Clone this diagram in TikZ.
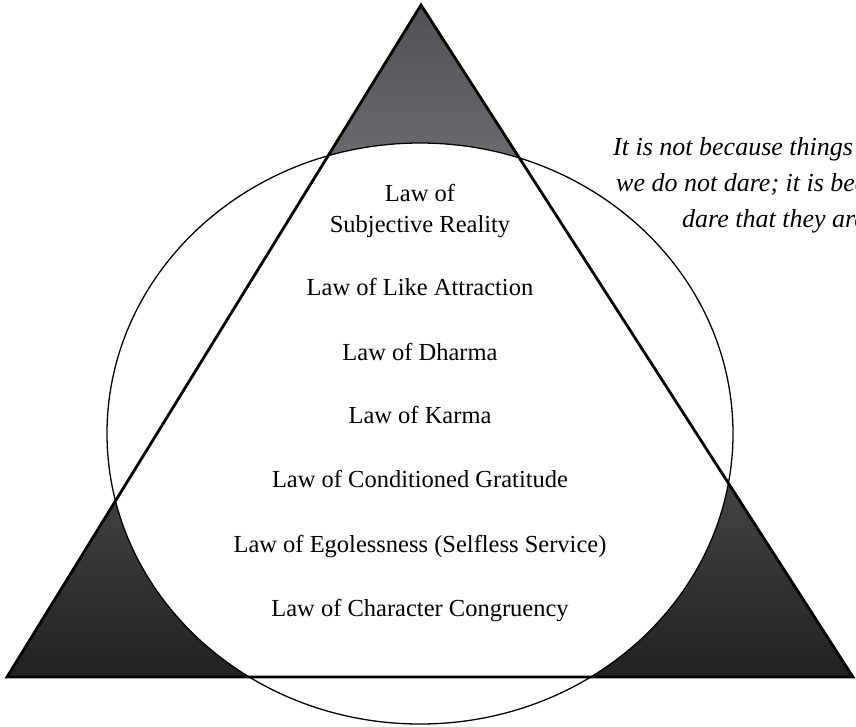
\documentclass[tikz,border=0pt]{standalone}
\usepackage{fontspec}
\setmainfont{Liberation Serif}
\definecolor{topdark}{HTML}{4F5053}
\definecolor{toplight}{HTML}{6B6C6F}
\definecolor{botdark}{HTML}{1F1F1F}
\definecolor{botlight}{HTML}{4B4B4D}
\begin{document}
\begin{tikzpicture}[x=1pt,y=-1pt,
  lawtext/.style={font=\fontsize{24.5}{30}\selectfont, anchor=base, inner sep=0pt},
  quotetext/.style={font=\fontsize{26}{30}\selectfont\itshape, anchor=base west, inner sep=0pt},
  triline/.style={line width=2.8pt, line join=miter},
  ringline/.style={line width=1.3pt}
]
\useasboundingbox (0,0) rectangle (856,726);
\clip (0,0) rectangle (856,726);
\coordinate (apex) at (421,5);
\coordinate (bl) at (7,677);
\coordinate (br) at (853,677);
\coordinate (cc) at (420,433.5);
% shaded corners
\begin{scope}
\clip (apex) -- (bl) -- (br) -- cycle;
\shade[top color=topdark, bottom color=toplight] (300,0) rectangle (540,165);
\shade[shading angle=-45, top color=botlight, bottom color=botdark] (0,440) rectangle (270,690);
\shade[shading angle=45, top color=botlight, bottom color=botdark] (580,440) rectangle (860,690);
\end{scope}
\fill[white] (cc) ellipse [x radius=313, y radius=290.5];
\draw[ringline] (cc) ellipse [x radius=313, y radius=290.5];
\draw[triline] (apex) -- (bl) -- (br) -- cycle;
% laws
\node[lawtext] (l1a) at (420,201) {Law of};
\node[lawtext] (l1b) at (420,232) {Subjective Reality};
\node[lawtext] (l2) at (420,295) {Law of Like Attraction};
\node[lawtext] (l3) at (420,360) {Law of Dharma};
\node[lawtext] (l4) at (420,423) {Law of Karma};
\node[lawtext] (l5) at (420,487) {Law of Conditioned Gratitude};
\node[lawtext] (l6) at (420,552) {Law of Egolessness (Selfless Service)};
\node[lawtext] (l7) at (420,616) {Law of Character Congruency};
% quote (runs past the right edge, as in the reference)
\node[quotetext] (q1) at (613,155) {It is not because things are difficult that};
\node[quotetext] (q2) at (616,191) {we do not dare; it is because we do not};
\node[quotetext] (q3) at (682,227) {dare that they are difficult.};
\end{tikzpicture}
\end{document}
